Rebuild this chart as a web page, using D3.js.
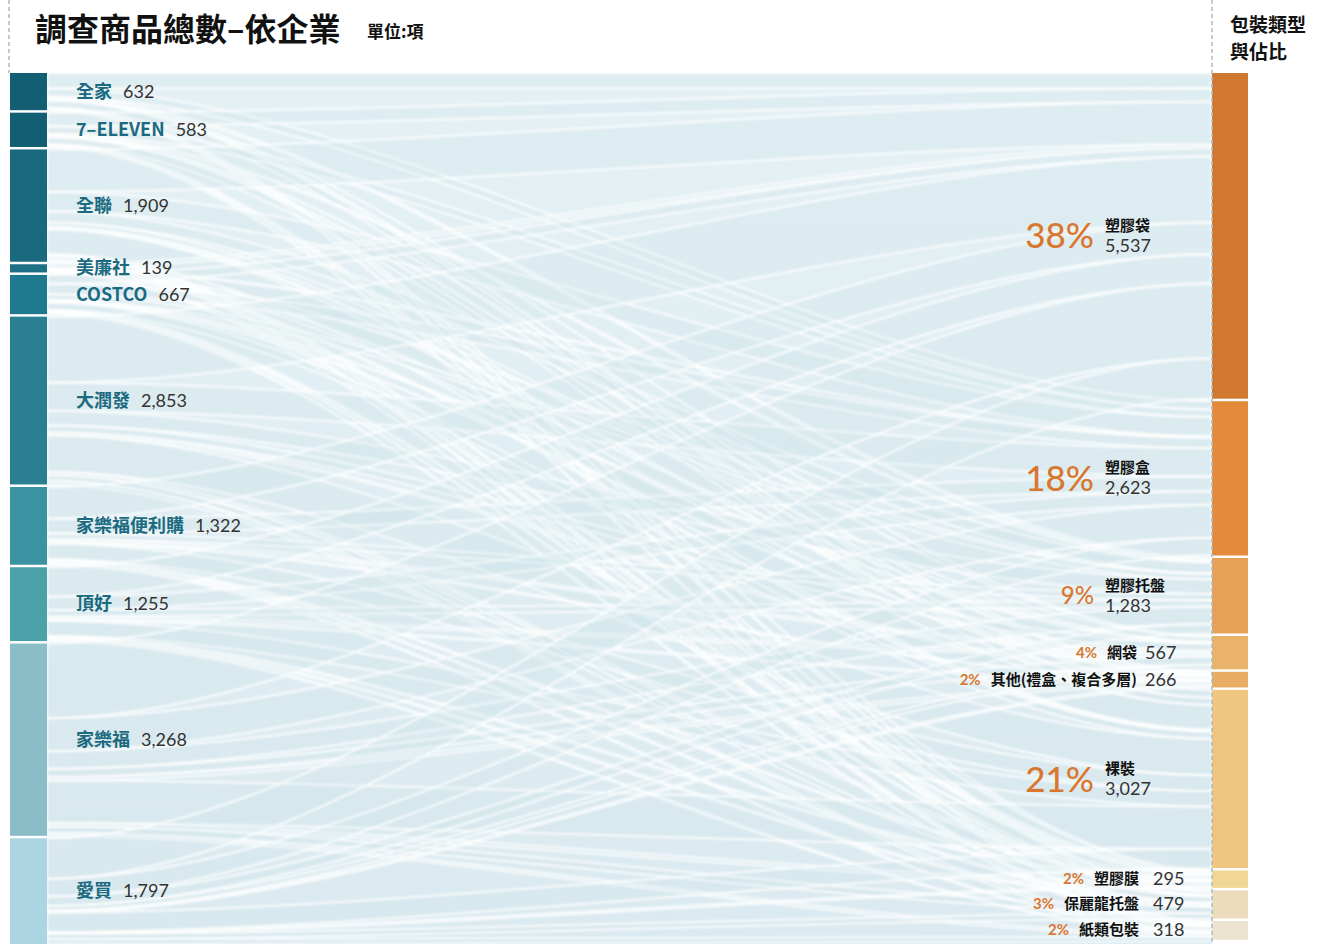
<!DOCTYPE html>
<html>
<head>
<meta charset="utf-8">
<script src="https://cdn.jsdelivr.net/npm/d3@7"></script>
<style>
  body { margin: 0; background: #fff; }
  svg { display: block; font-family: "Noto Sans CJK TC", "Noto Sans", sans-serif; }
</style>
</head>
<body>
<svg id="chart" width="1330" height="946"></svg>
<script>
// companies (left) and their survey counts
const companies = ["全家", "7–ELEVEN", "全聯", "美廉社", "COSTCO", "大潤發", "家樂福便利購", "頂好", "家樂福", "愛買"];
const companyValues = [632, 583, 1909, 139, 667, 2853, 1322, 1255, 3268, 1797];

// packaging types (right)
const packTypes = ["塑膠袋", "塑膠盒", "塑膠托盤", "網袋", "其他(禮盒、複合多層)", "裸裝", "塑膠膜", "保麗龍托盤", "紙類包裝"];
const packValues = [5537, 2623, 1283, 567, 266, 3027, 295, 479, 318];
const packPct = ["38%", "18%", "9%", "4%", "2%", "21%", "2%", "3%", "2%"];

// estimated flows company -> packaging (rows follow companies, columns follow packTypes)
const flows = [
  [260, 140, 40, 10, 12, 130, 10, 10, 20],
  [230, 130, 35, 8, 10, 125, 10, 10, 25],
  [720, 330, 190, 80, 35, 420, 40, 60, 34],
  [60, 20, 8, 5, 3, 35, 3, 3, 2],
  [150, 180, 90, 30, 20, 120, 30, 25, 22],
  [1120, 480, 250, 120, 45, 620, 55, 100, 63],
  [540, 250, 100, 45, 25, 270, 30, 35, 27],
  [500, 230, 110, 50, 20, 260, 25, 35, 25],
  [1270, 560, 300, 140, 60, 720, 60, 110, 48],
  [690, 300, 160, 80, 36, 330, 32, 90, 79]
];

const leftColors = ["#125f73", "#125f73", "#1a6a7f", "#1c6f85", "#1f7a8f", "#2a7f92", "#3b93a1", "#4aa1a8", "#8abdc8", "#acd5e1"];
const rightColors = ["#d07830", "#e38b3b", "#e8a057", "#eab36c", "#e9ad63", "#efc57f", "#f0d796", "#eddcbb", "#ece2d0"];

const svg = d3.select("#chart");

const plotTop = 73, plotBottom = 944, gap = 2.5;
const leftX0 = 10, leftX1 = 47, rightX0 = 1212, rightX1 = 1248;

// shared value -> pixel scale
const maxTotal = Math.max(d3.sum(companyValues), d3.sum(packValues));
const k = d3.scaleLinear()
  .domain([0, maxTotal])
  .range([0, (plotBottom - plotTop) - gap * (companies.length - 1)]);

function stack(values) {
  let y = plotTop;
  return values.map(v => {
    const n = { y0: y, y1: y + k(v) };
    y = n.y1 + gap;
    return n;
  });
}
const leftNodes = stack(companyValues);
const rightNodes = stack(packValues);

const defs = svg.append("defs");
// background of the flow area
const bgGrad = defs.append("linearGradient")
  .attr("id", "bg").attr("x1", 0).attr("y1", 0).attr("x2", 0).attr("y2", 1);
bgGrad.append("stop").attr("offset", "0%").attr("stop-color", "#e4f0f4");
bgGrad.append("stop").attr("offset", "100%").attr("stop-color", "#dbeaf0");
defs.append("filter").attr("id", "soft")
  .append("feGaussianBlur").attr("stdDeviation", 0.9);
defs.append("clipPath").attr("id", "plot")
  .append("rect")
  .attr("x", leftX1).attr("y", plotTop)
  .attr("width", rightX0 - leftX1).attr("height", plotBottom - plotTop);

svg.append("rect")
  .attr("x", leftX1).attr("y", plotTop)
  .attr("width", rightX0 - leftX1).attr("height", plotBottom - plotTop)
  .attr("fill", "url(#bg)");

// build link bands
const links = [];
const leftOffset = leftNodes.map(n => n.y0);
const rightOffset = rightNodes.map(n => n.y0);
companies.forEach((c, i) => {
  packTypes.forEach((p, j) => {
    const v = flows[i][j];
    const h = k(v);
    links.push({ s: i, t: j, v: v, sy0: leftOffset[i], sy1: leftOffset[i] + h });
    leftOffset[i] += h;
  });
});
// order at the right side by source order
packTypes.forEach((p, j) => {
  links.filter(l => l.t === j).sort((a, b) => a.s - b.s).forEach(l => {
    const h = k(l.v);
    l.ty0 = rightOffset[j];
    l.ty1 = rightOffset[j] + h;
    rightOffset[j] += h;
  });
});

function band(l) {
  const x0 = leftX1, x1 = rightX0;
  const xm0 = x0 + (x1 - x0) * 0.3, xm1 = x0 + (x1 - x0) * 0.7;
  return `M${x0},${l.sy0}C${xm0},${l.sy0} ${xm1},${l.ty0} ${x1},${l.ty0}` +
    `L${x1},${l.ty1}C${xm1},${l.ty1} ${xm0},${l.sy1} ${x0},${l.sy1}Z`;
}

svg.append("g")
  .attr("clip-path", "url(#plot)")
  .append("g")
  .attr("filter", "url(#soft)")
  .selectAll("path")
  .data(links)
  .join("path")
  .attr("d", band)
  .attr("fill", "#c8dfe8")
  .attr("fill-opacity", 0.2)
  .attr("stroke", "#ffffff")
  .attr("stroke-opacity", 0.8)
  .attr("stroke-width", 2);

// node bars
svg.append("g")
  .selectAll("rect")
  .data(leftNodes)
  .join("rect")
  .attr("x", leftX0).attr("width", leftX1 - leftX0)
  .attr("y", d => d.y0).attr("height", d => d.y1 - d.y0)
  .attr("fill", (d, i) => leftColors[i]);

svg.append("g")
  .selectAll("rect")
  .data(rightNodes)
  .join("rect")
  .attr("x", rightX0).attr("width", rightX1 - rightX0)
  .attr("y", d => d.y0).attr("height", d => d.y1 - d.y0)
  .attr("fill", (d, i) => rightColors[i]);

// dashed guides
svg.append("line")
  .attr("x1", 9).attr("x2", 9).attr("y1", 0).attr("y2", plotTop)
  .attr("stroke", "#a9b9bf").attr("stroke-width", 1.5).attr("stroke-dasharray", "4,3");
svg.append("line")
  .attr("x1", rightX0).attr("x2", rightX0).attr("y1", 0).attr("y2", plotBottom)
  .attr("stroke", "#a9bcc4").attr("stroke-width", 1.5).attr("stroke-dasharray", "4,3");

// titles
svg.append("text")
  .attr("x", 35).attr("y", 41)
  .attr("font-size", 32).attr("font-weight", 700).attr("fill", "#111")
  .text("調查商品總數–依企業");
svg.append("text")
  .attr("x", 367).attr("y", 38)
  .attr("font-size", 17).attr("font-weight", 700).attr("fill", "#111")
  .text("單位:項");
svg.append("text")
  .attr("x", 1230).attr("y", 32)
  .attr("font-size", 19).attr("font-weight", 700).attr("fill", "#111")
  .text("包裝類型");
svg.append("text")
  .attr("x", 1230).attr("y", 59)
  .attr("font-size", 19).attr("font-weight", 700).attr("fill", "#111")
  .text("與佔比");

// left labels
const fmt = d3.format(",");
const numFont = "Lato, 'Noto Sans', sans-serif";
const leftLabels = svg.append("g");
companies.forEach((c, i) => {
  const n = leftNodes[i];
  const t = leftLabels.append("text")
    .attr("x", 76).attr("y", (n.y0 + n.y1) / 2 + 6)
    .attr("font-size", 18);
  t.append("tspan").attr("font-weight", 700).attr("fill", "#1b6a80").text(c);
  t.append("tspan").attr("dx", 11).attr("font-weight", 400).attr("fill", "#333")
    .attr("font-family", numFont).text(fmt(companyValues[i]));
});

// right labels: "big" = two-line name/value with large percentage
const bigLabel = [true, true, true, false, false, true, false, false, false];
const rightLabels = svg.append("g");
packTypes.forEach((p, i) => {
  const n = rightNodes[i];
  const cy = (n.y0 + n.y1) / 2;
  if (bigLabel[i]) {
    const big = i === 2 ? 24 : 35;
    rightLabels.append("text")
      .attr("x", 1094).attr("y", cy + big * 0.36)
      .attr("text-anchor", "end")
      .attr("font-size", big).attr("font-weight", 500).attr("fill", "#d9772f")
      .attr("font-family", numFont)
      .text(packPct[i]);
    rightLabels.append("text")
      .attr("x", 1105).attr("y", cy - 5)
      .attr("font-size", 15).attr("font-weight", 700).attr("fill", "#111")
      .text(p);
    rightLabels.append("text")
      .attr("x", 1105).attr("y", cy + 16)
      .attr("font-size", 18).attr("font-weight", 400).attr("fill", "#333")
      .attr("font-family", numFont)
      .text(fmt(packValues[i]));
  } else {
    const nameEnd = i >= 6 ? 1139 : 1137;
    const valStart = i >= 6 ? 1153 : 1145;
    const nameT = rightLabels.append("text")
      .attr("x", nameEnd).attr("y", cy + 5)
      .attr("text-anchor", "end")
      .attr("font-size", 15).attr("font-weight", 700).attr("fill", "#111")
      .text(p);
    const w = nameT.node().getComputedTextLength();
    rightLabels.append("text")
      .attr("x", nameEnd - w - 10).attr("y", cy + 5)
      .attr("text-anchor", "end")
      .attr("font-size", 15).attr("font-weight", 700).attr("fill", "#d9772f")
      .attr("font-family", numFont)
      .text(packPct[i]);
    rightLabels.append("text")
      .attr("x", valStart).attr("y", cy + 6)
      .attr("font-size", 18).attr("font-weight", 400).attr("fill", "#333")
      .attr("font-family", numFont)
      .text(fmt(packValues[i]));
  }
});
</script>
</body>
</html>
